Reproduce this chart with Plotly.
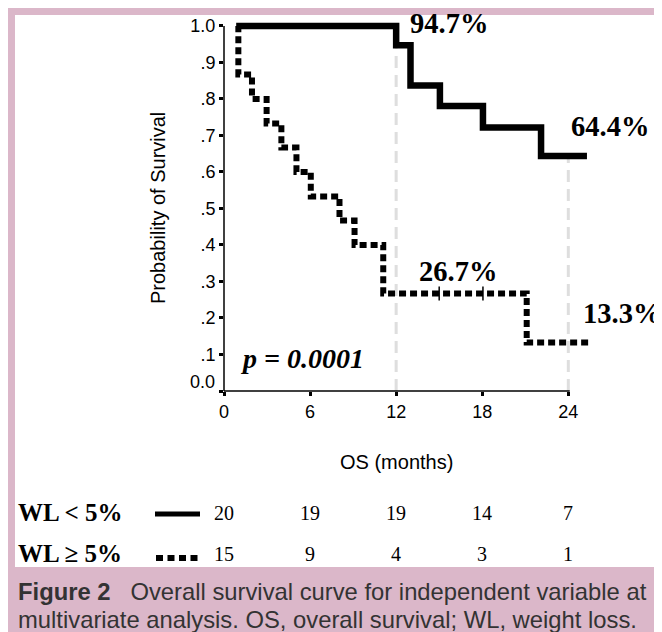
import plotly.graph_objects as go

# ---------------- data ----------------
# Kaplan-Meier step points (months, survival probability)
wl_lt5_months = [0.85, 12.0, 13.0, 15.05, 18.05, 22.1, 25.3]
wl_lt5_surv = [1.0, 0.947, 0.837, 0.781, 0.722, 0.644, 0.644]

wl_ge5_months = [0.95, 1.0, 1.95, 2.97, 4.0, 5.05, 6.05, 8.05, 9.1, 11.1, 21.1, 25.4]
wl_ge5_surv = [1.0, 0.867, 0.8, 0.733, 0.667, 0.6, 0.533, 0.467, 0.4, 0.267, 0.133, 0.133]

wl_ge5_censor_months = [15.0, 18.05]

milestone_months = [12, 24]

x_tick_vals = [0, 6, 12, 18, 24]
x_tick_text = ["0", "6", "12", "18", "24"]
y_tick_vals = [0.0, 0.1, 0.2, 0.3, 0.4, 0.5, 0.6, 0.7, 0.8, 0.9, 1.0]
y_tick_text = ["", ".1", ".2", ".3", ".4", ".5", ".6", ".7", ".8", ".9", "1.0"]

risk_months = [0, 6, 12, 18, 24]
at_risk_lt5 = [20, 19, 19, 14, 7]
at_risk_ge5 = [15, 9, 4, 3, 1]

group_labels = ["WL &lt; 5%", "WL ≥ 5%"]
p_value_text = "p = 0.0001"
x_title = "OS (months)"
y_title = "Probability of Survival"
caption_bold = "Figure 2"
caption_line1 = "Overall survival curve for independent variable at"
caption_line2 = "multivariate analysis. OS, overall survival; WL, weight loss."

# ---------------- layout geometry ----------------
# The page body has an 8px default margin; the figure is sized to fill the rest.
PAGE_OFF = 8
W, H = 662 - PAGE_OFF, 632 - PAGE_OFF
PLOT_LEFT, PLOT_RIGHT, PLOT_TOP, PLOT_BOTTOM = 224, 597, 15, 391  # page pixels
ML = PLOT_LEFT - PAGE_OFF
MT = PLOT_TOP - PAGE_OFF
MR = W - (PLOT_RIGHT - PAGE_OFF)
MB = H - (PLOT_BOTTOM - PAGE_OFF)
PW, PH = W - ML - MR, H - MT - MB
X_RANGE = [0, 26]
Y_RANGE = [0, 1.03]

PINK = "#dbb7c9"
SERIF = "Times New Roman, Liberation Serif, serif"
SANS = "Arial, Liberation Sans, sans-serif"
CAPTION_COLOR = "#333333"


def fx(px):
    """page pixel x -> paper fraction"""
    return (px - PAGE_OFF - ML) / PW


def fy(py):
    """page pixel y -> paper fraction"""
    return 1 - (py - PAGE_OFF - MT) / PH


def surv_at(t, months, surv):
    val = surv[0]
    for m, s in zip(months, surv):
        if m <= t:
            val = s
    return val


fig = go.Figure()

# gray dashed milestone lines
for m in milestone_months:
    top = max(surv_at(m, wl_lt5_months, wl_lt5_surv), surv_at(m, wl_ge5_months, wl_ge5_surv))
    fig.add_trace(go.Scatter(
        x=[m, m], y=[0, top], mode="lines",
        line=dict(color="#dedede", width=3, dash="12px,7px"),
        showlegend=False, hoverinfo="skip"))

# WL >= 5% (dotted)
fig.add_trace(go.Scatter(
    x=wl_ge5_months, y=wl_ge5_surv, mode="lines", line_shape="hv",
    line=dict(color="black", width=6, dash="7px,4px"),
    showlegend=False))

# censor marks on dotted curve
fig.add_trace(go.Scatter(
    x=wl_ge5_censor_months,
    y=[surv_at(t, wl_ge5_months, wl_ge5_surv) for t in wl_ge5_censor_months],
    mode="markers",
    marker=dict(symbol="line-ns", size=10, line=dict(color="black", width=1.5)),
    showlegend=False))

# WL < 5% (solid)
fig.add_trace(go.Scatter(
    x=wl_lt5_months, y=wl_lt5_surv, mode="lines", line_shape="hv",
    line=dict(color="black", width=6.5),
    showlegend=False))

shapes = [
    # pink frame and white panel
    dict(type="rect", xref="paper", yref="paper", x0=fx(6), x1=fx(670), y0=fy(640), y1=fy(6),
         fillcolor=PINK, line=dict(width=0), layer="below"),
    dict(type="rect", xref="paper", yref="paper", x0=fx(15), x1=fx(660), y0=fy(567), y1=fy(15),
         fillcolor="white", line=dict(width=0), layer="below"),
    # axis lines
    dict(type="line", xref="x", yref="paper", x0=0, x1=24.1, y0=0, y1=0,
         line=dict(color="black", width=1.5)),
    dict(type="line", xref="paper", yref="y", x0=0, x1=0, y0=0, y1=1.0,
         line=dict(color="black", width=1.5)),
    # legend samples in the risk table
    dict(type="line", xref="paper", yref="paper", x0=fx(155), x1=fx(200), y0=fy(514), y1=fy(514),
         line=dict(color="black", width=5)),
    dict(type="line", xref="paper", yref="paper", x0=fx(156), x1=fx(199), y0=fy(558), y1=fy(558),
         line=dict(color="black", width=6, dash="7px,4.5px")),
]

annotations = []


def pct(v):
    return f"<b>{v * 100:.1f}%</b>"


pct_font = dict(family=SERIF, size=28.5, color="black")
annotations += [
    dict(text=pct(surv_at(12, wl_lt5_months, wl_lt5_surv)), x=fx(449), y=fy(24), font=pct_font),
    dict(text=pct(surv_at(24, wl_lt5_months, wl_lt5_surv)), x=fx(610), y=fy(126), font=pct_font),
    dict(text=pct(surv_at(12, wl_ge5_months, wl_ge5_surv)), x=fx(458), y=fy(271), font=pct_font),
    dict(text=pct(surv_at(24, wl_ge5_months, wl_ge5_surv)), x=fx(622), y=fy(313), font=pct_font),
    dict(text=f"<b><i>{p_value_text}</i></b>", x=fx(302), y=fy(358),
         font=dict(family=SERIF, size=28, color="black")),
    dict(text=y_title, x=fx(158), y=fy(208), textangle=-90,
         font=dict(family=SANS, size=20, color="black")),
    dict(text=x_title, x=fx(396), y=fy(462),
         font=dict(family=SANS, size=20, color="black")),
    dict(text="0.0", x=fx(217), y=fy(382), xanchor="right",
         font=dict(family=SANS, size=18, color="black")),
]
for i, lab in enumerate(group_labels):
    annotations.append(dict(text=f"<b>{lab}</b>", x=fx(16), y=fy(512 + 41 * i), xanchor="left",
                            font=dict(family=SERIF, size=25, color="black")))
for row, counts in enumerate([at_risk_lt5, at_risk_ge5]):
    for m, c in zip(risk_months, counts):
        annotations.append(dict(text=str(c), x=m, xref="x", y=fy(513 + 41 * row), yref="paper",
                                font=dict(family=SERIF, size=20, color="black")))
annotations += [
    dict(text=f"<b>{caption_bold}</b>\u00a0\u00a0 {caption_line1}", x=fx(16), y=fy(591), xanchor="left",
         font=dict(family=SANS, size=23.8, color=CAPTION_COLOR)),
    dict(text=caption_line2, x=fx(16), y=fy(619), xanchor="left",
         font=dict(family=SANS, size=23.8, color=CAPTION_COLOR)),
]
for a in annotations:
    a.setdefault("xref", "paper")
    a.setdefault("yref", "paper")
    a.setdefault("xanchor", "center")
    a.setdefault("yanchor", "middle")
    a["showarrow"] = False

fig.update_layout(
    width=W, height=H,
    margin=dict(l=ML, r=MR, t=MT, b=MB, pad=0),
    paper_bgcolor="white", plot_bgcolor="rgba(0,0,0,0)",
    shapes=shapes, annotations=annotations,
    showlegend=False,
    xaxis=dict(range=X_RANGE, showgrid=False, zeroline=False, showline=False,
               ticks="outside", ticklen=4, tickwidth=3, tickcolor="black",
               tickvals=x_tick_vals, ticktext=x_tick_text,
               tickfont=dict(family=SANS, size=18, color="black"), automargin=False),
    yaxis=dict(range=Y_RANGE, showgrid=False, zeroline=False, showline=False,
               ticks="outside", ticklen=4, tickwidth=3, tickcolor="black",
               tickvals=y_tick_vals, ticktext=y_tick_text,
               tickfont=dict(family=SANS, size=18, color="black"), automargin=False),
)

fig.write_html("out.html")
